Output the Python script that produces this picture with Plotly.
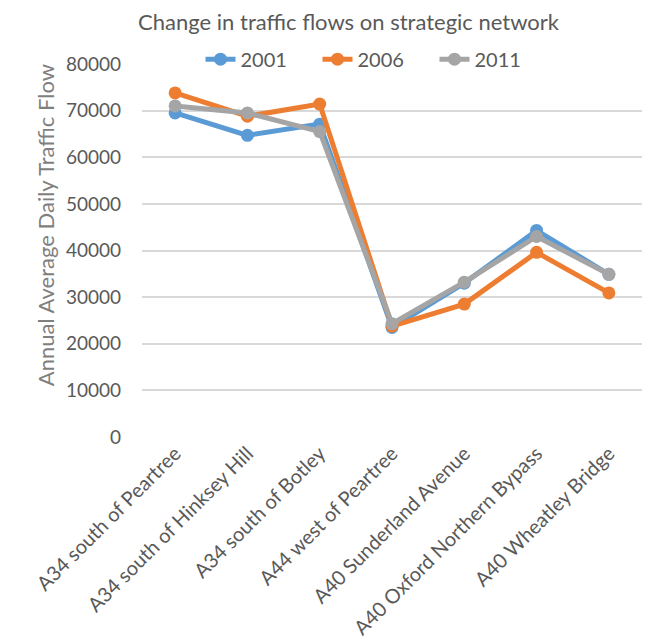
import plotly.graph_objects as go

categories = ["A34 south of Peartree", "A34 south of Hinksey Hill", "A34 south of Botley",
              "A44 west of Peartree", "A40 Sunderland Avenue", "A40 Oxford Northern Bypass",
              "A40 Wheatley Bridge"]
y2001 = [69500, 64700, 67100, 23500, 33000, 44300, 34900]
y2006 = [73800, 68800, 71400, 23800, 28500, 39600, 30900]
y2011 = [71000, 69500, 65500, 24300, 33200, 43000, 34900]
series_names = ["2001", "2006", "2011"]
colors = ["#5B9BD5", "#ED7D31", "#A5A5A5"]
yticks = [0, 10000, 20000, 30000, 40000, 50000, 60000, 70000, 80000]

FONT = "Lato, Liberation Sans, sans-serif"

fig = go.Figure()
for name, vals, c in zip(series_names, [y2001, y2006, y2011], colors):
    fig.add_trace(go.Scatter(x=categories, y=vals, name=name, mode="lines+markers",
                             line=dict(color=c, width=5),
                             marker=dict(color=c, size=13)))

fig.update_layout(
    width=645, height=634,
    paper_bgcolor="white", plot_bgcolor="white",
    margin=dict(l=134, r=11, t=56, b=205, autoexpand=False),
    font=dict(family=FONT, color="#595959", size=17),
    title=dict(text="Change in traffic flows on strategic network",
               x=0.528, xref="container", xanchor="center",
               y=0.977, yref="container", yanchor="middle",
               font=dict(size=22, color="#595959", family=FONT)),
    showlegend=True,
    legend=dict(orientation="h", x=0.468, xanchor="center", y=1.013, yanchor="middle",
                font=dict(size=20, color="#595959"), bgcolor="rgba(0,0,0,0)",
                entrywidth=72, entrywidthmode="pixels", tracegroupgap=0),
    xaxis=dict(type="category", tickangle=-45, showgrid=False, showline=False,
               ticks="", tickfont=dict(size=20, color="#595959"), zeroline=False,
               automargin=False),
    yaxis=dict(range=[0, 80000], tickvals=yticks, ticktext=[str(v) for v in yticks],
               showgrid=True, gridcolor="#D9D9D9", gridwidth=2, zeroline=False,
               showline=False, ticks="", ticklabelstandoff=20, automargin=False,
               tickfont=dict(size=19, color="#595959")),
    annotations=[dict(text="Annual Average Daily Traffic Flow", textangle=-90,
                      xref="paper", yref="paper", x=-0.194, y=0.568,
                      xanchor="center", yanchor="middle", showarrow=False,
                      font=dict(size=22, color="#7F7F7F", family=FONT))],
)

fig.write_html("out.html")
